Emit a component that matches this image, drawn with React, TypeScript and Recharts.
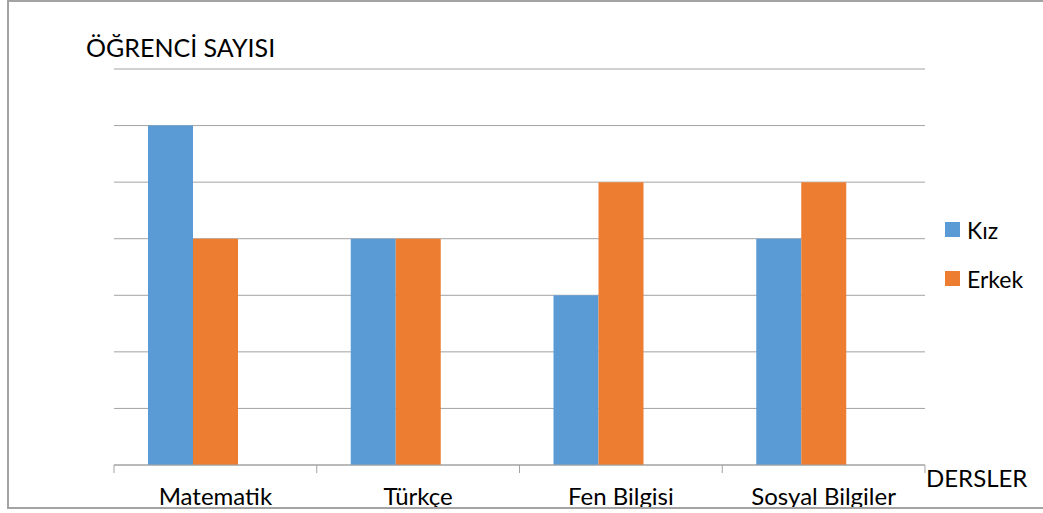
import { Bar, BarChart, CartesianGrid, XAxis, YAxis } from "recharts";

const categories = ["Matematik", "Türkçe", "Fen Bilgisi", "Sosyal Bilgiler"];
const kiz = [6, 4, 3, 4];
const erkek = [4, 4, 5, 5];
// the original sheet had a third, empty series: it keeps its slot in each group
const bos = [null, null, null, null];
const yTicks = [0, 1, 2, 3, 4, 5, 6, 7];

const seriesNames = { kiz: "Kız", erkek: "Erkek" };
const colors = { kiz: "#5B9BD5", erkek: "#ED7D31" };

const data = categories.map((ders, i) => ({
  ders,
  kiz: kiz[i],
  erkek: erkek[i],
  bos: bos[i],
}));

const FONT = "Lato, 'Open Sans', sans-serif";
const GRID = "#a3a3a3";

const DersTick = (props: any) => {
  const { x, y, payload, index, visibleTicksCount } = props;
  const half = payload.offset ?? 0;
  const last = index === visibleTicksCount - 1;
  return (
    <g>
      <line x1={x - half} x2={x - half} y1={y - 8} y2={y} stroke={GRID} />
      {last && <line x1={x + half} x2={x + half} y1={y - 8} y2={y} stroke={GRID} />}
      <text
        x={x}
        y={505}
        textAnchor="middle"
        fontFamily={FONT}
        fontSize={24}
        fill="#000"
      >
        {payload.value}
      </text>
    </g>
  );
};

export default function App() {
  return (
    <div
      style={{
        position: "absolute",
        left: 0,
        top: 0,
        width: 1043,
        height: 513,
        overflow: "hidden",
        background: "#fff",
      }}
    >
      <div
        style={{
          position: "absolute",
          left: 7,
          top: 0,
          width: 1100,
          height: 505,
          border: `2px solid ${GRID}`,
          borderRight: "none",
          overflow: "hidden",
        }}
      >
        <div style={{ position: "absolute", left: -9, top: -2 }}>
          <BarChart
            width={1043}
            height={560}
            data={data}
            margin={{ top: 69, right: 118, left: 114, bottom: 55 }}
            barCategoryGap={34}
            barGap={0}
          >
            <CartesianGrid vertical={false} stroke={GRID} />
            <YAxis hide domain={[0, 7]} ticks={yTicks} />
            <XAxis
              dataKey="ders"
              height={40}
              stroke={GRID}
              tickLine={false}
              tick={<DersTick />}
              interval={0}
            />
            <Bar dataKey="kiz" fill={colors.kiz} isAnimationActive={false} />
            <Bar dataKey="erkek" fill={colors.erkek} isAnimationActive={false} />
            <Bar dataKey="bos" fill="none" legendType="none" isAnimationActive={false} />
          </BarChart>
          <svg
            width={1043}
            height={513}
            style={{ position: "absolute", left: 0, top: 0, pointerEvents: "none" }}
          >
            <text x={86} y={57} fontFamily={FONT} fontSize={25} fill="#000">
              ÖĞRENCİ SAYISI
            </text>
            <text x={926} y={487} fontFamily={FONT} fontSize={24} fill="#000">
              DERSLER
            </text>
          </svg>
          <div
            style={{
              position: "absolute",
              left: 945,
              top: 205,
              fontFamily: FONT,
              fontSize: 23,
              color: "#000",
            }}
          >
            {(["kiz", "erkek"] as const).map((k) => (
              <div key={k} style={{ display: "flex", alignItems: "center", height: 49 }}>
                <span
                  style={{
                    width: 15,
                    height: 15,
                    background: colors[k],
                    marginRight: 7,
                    display: "inline-block",
                  }}
                />
                {seriesNames[k]}
              </div>
            ))}
          </div>
        </div>
      </div>
    </div>
  );
}
